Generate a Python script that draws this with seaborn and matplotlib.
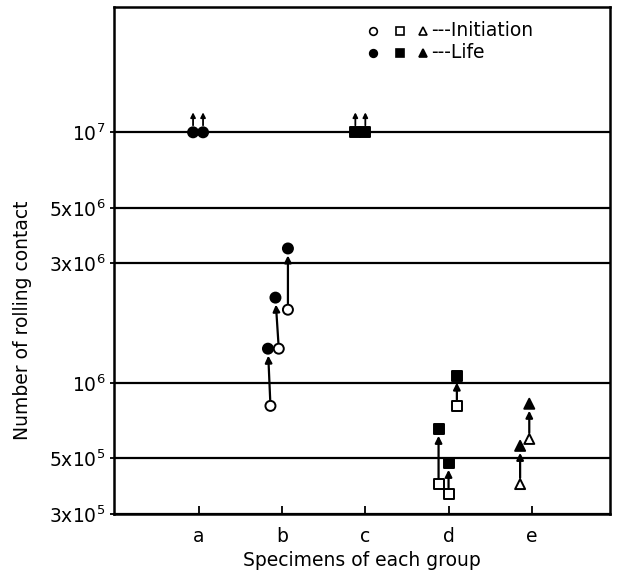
import matplotlib
matplotlib.use('Agg')
import matplotlib.pyplot as plt
import numpy as np
import pandas as pd
import seaborn as sns
from matplotlib.transforms import ScaledTranslation
from matplotlib.ticker import NullLocator

# ---------------- data ----------------
groups = ['a', 'b', 'c', 'd', 'e']
group_marker = {'a': 'o', 'b': 'o', 'c': 's', 'd': 's', 'e': '^'}

# crack initiation (open symbols)
init_group = ['b', 'b', 'b', 'd', 'd', 'd', 'e', 'e']
init_value = [8.1e5, 1.37e6, 1.96e6, 8.1e5, 3.95e5, 3.61e5, 5.98e5, 3.95e5]

# life (filled symbols); runout = test stopped without failure (arrow up)
life_group = ['a', 'a', 'b', 'b', 'b', 'c', 'c', 'd', 'd', 'd', 'e', 'e']
life_value = [1e7, 1e7, 1.37e6, 2.19e6, 3.44e6, 1e7, 1e7,
              1.07e6, 6.56e5, 4.8e5, 8.26e5, 5.61e5]
life_runout = [True, True, False, False, False, True, True,
               False, False, False, False, False]

# which initiation point belongs to which life point
pair_init = [0, 1, 2, 3, 4, 5, 6, 7]
pair_life = [2, 3, 4, 7, 8, 9, 10, 11]

# horizontal placement of each specimen inside its group
init_offset = [-0.14, -0.04, 0.07, 0.10, -0.12, 0.0, -0.03, -0.14]
life_offset = [-0.07, 0.05, -0.17, -0.08, 0.07, -0.12, 0.0,
               0.10, -0.12, 0.0, -0.03, -0.14]

ytick_values = [3e5, 5e5, 1e6, 3e6, 5e6, 1e7]
ytick_labels = ['3x10$^5$', '5x10$^5$', '10$^6$', '3x10$^6$', '5x10$^6$', '10$^7$']

# ---------------- frame ----------------
df_init = pd.DataFrame({'group': init_group, 'value': init_value,
                        'offset': init_offset, 'kind': 'Initiation'})
df_life = pd.DataFrame({'group': life_group, 'value': life_value,
                        'offset': life_offset, 'kind': 'Life'})
df = pd.concat([df_init, df_life], ignore_index=True)
df['x'] = df['group'].map({g: i for i, g in enumerate(groups)}) + df['offset']

sns.set_style('ticks')
plt.rcParams['font.family'] = ['DejaVu Sans']
plt.rcParams['mathtext.fontset'] = 'dejavusans'
for k in ['text.color', 'axes.labelcolor', 'xtick.color', 'ytick.color',
          'axes.edgecolor']:
    plt.rcParams[k] = 'black'

W, H = 620, 572
fig = plt.figure(figsize=(W / 100, H / 100), dpi=100)
ax = fig.add_axes([114 / W, 1 - 514 / H, 496 / W, 507 / H])

ax.set_yscale('log')
ax.set_ylim(3e5, 10 ** 7.5)
ax.set_xlim(-1.02, 4.94)

ax.yaxis.grid(True, color='black', linewidth=1.6)
ax.set_axisbelow(True)

sns.scatterplot(data=df, x='x', y='value', hue='kind', style='group',
                markers=group_marker,
                palette={'Initiation': 'white', 'Life': 'black'},
                edgecolor='black', linewidth=1.4, s=52, legend=False,
                ax=ax, zorder=4, clip_on=False)

n_init = len(df_init)
# arrows initiation -> life
for i, l in zip(pair_init, pair_life):
    ax.annotate('', xy=(df.loc[n_init + l, 'x'], life_value[l]),
                xytext=(df.loc[i, 'x'], init_value[i]),
                arrowprops=dict(arrowstyle='-|>', color='black', lw=1.6,
                                mutation_scale=10, shrinkA=4.5, shrinkB=5),
                zorder=3)

# runout arrows
tail = ax.transData + ScaledTranslation(0, 7 / 100, fig.dpi_scale_trans)
head = ax.transData + ScaledTranslation(0, 20 / 100, fig.dpi_scale_trans)
for l, ro in enumerate(life_runout):
    if ro:
        xl = df.loc[n_init + l, 'x']
        ax.annotate('', xy=(xl, life_value[l]), xycoords=head,
                    xytext=(xl, life_value[l]), textcoords=tail,
                    arrowprops=dict(arrowstyle='-|>', color='black', lw=1.3,
                                    mutation_scale=7, shrinkA=0, shrinkB=0))

# ticks / labels
ax.set_xticks(range(len(groups)), groups)
ax.set_yticks(ytick_values, ytick_labels)
ax.yaxis.set_minor_locator(NullLocator())
ax.tick_params(axis='x', direction='in', length=6, width=1.3, pad=9, labelsize=13.5)
ax.tick_params(axis='y', direction='out', length=3, width=1.3, pad=3, labelsize=13.5)
for s in ax.spines.values():
    s.set_visible(True)
    s.set_linewidth(1.8)
    s.set_color('black')

ax.set_xlabel('Specimens of each group', fontsize=13.5, labelpad=4)
ax.set_ylabel('Number of rolling contact', fontsize=13.5)
ax.yaxis.set_label_coords(-0.165, 0.383)

# legend (drawn as a key in figure coordinates)
rows = [(31, 'white', '---Initiation'),
        (53, 'black', '---Life')]
for y, fc, txt in rows:
    for xm, mk in zip([373, 400, 423], ['o', 's', '^']):
        fig.add_artist(plt.Line2D([xm / W], [1 - y / H], marker=mk,
                                  markersize=5.5, markerfacecolor=fc,
                                  markeredgecolor='black', markeredgewidth=1.2,
                                  linestyle='none', transform=fig.transFigure))
    fig.text(431 / W, 1 - y / H, txt, fontsize=13.5, ha='left', va='center')

fig.savefig('out.png', dpi=100)
